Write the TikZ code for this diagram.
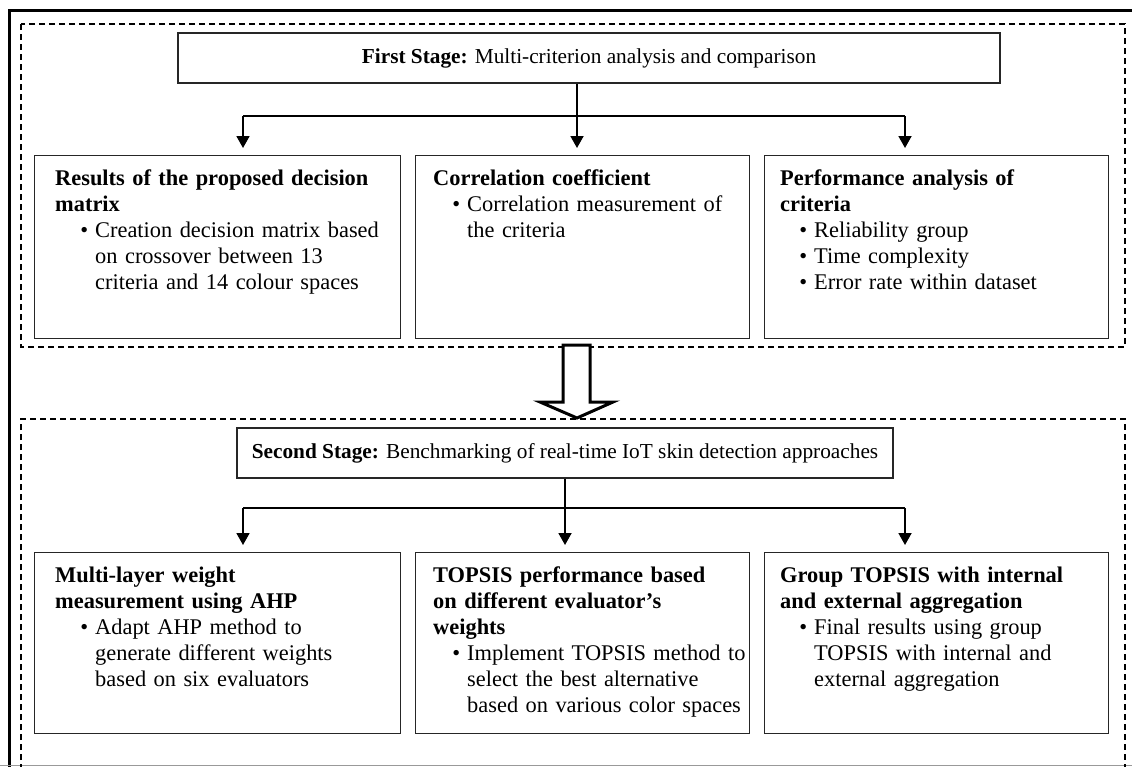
\documentclass[tikz,border=0pt]{standalone}
\usepackage{fontspec}
\setmainfont{Liberation Serif}
\usetikzlibrary{arrows.meta}
% bullet line and continuation line, both indented by #1
\newcommand\bl[2]{\hspace*{#1}\llap{\textbullet\hspace{7pt}}#2}
\newcommand\cl[2]{\hspace*{#1}#2}
\begin{document}
\begin{tikzpicture}[x={(1pt,0pt)}, y={(0pt,-1pt)},
  frame/.style={line width=3pt},
  stageframe/.style={draw=black, dash pattern=on 6pt off 4pt, line width=1.7pt},
  titlebox/.style={draw=black!85, line width=1.3pt, inner sep=0pt, align=center,
    font=\fontsize{21.3}{26}\selectfont},
  itembox/.style={draw=black!85, line width=1.3pt, inner sep=0pt, anchor=north west},
  boxtext/.style={anchor=north west, inner sep=0pt, align=left, text width=340pt,
    font=\fontsize{22.4}{26}\selectfont, xshift=18pt, yshift=-15pt},
  link/.style={line width=1.8pt},
  flow/.style={link, -{Triangle[width=13pt,length=12pt]}, shorten >=7pt},
  hollow/.style={line width=3pt, draw=black, fill=white, line join=miter}
]
\useasboundingbox (0,0) rectangle (1132,766);
\clip (0,0) rectangle (1132,766);

% outer frame and bottom rule
\draw[frame] (9.5,780) -- (9.5,10) -- (1150,10);
\draw[black!40, line width=1pt] (0,765.5) -- (1132,765.5);

% dashed stage frames
\draw[stageframe] (21,24) rectangle (1125,347);
\draw[stageframe] (21,790) |- (1125,419) -- (1125,790);

% ---------- first stage ----------
\node[titlebox, minimum width=822pt, minimum height=50pt] (t1) at (589,58)
  {\textbf{First Stage:} Multi-criterion analysis and comparison};

\node[itembox, minimum width=366pt, minimum height=183pt] (b1) at (34,155) {};
\node[itembox, minimum width=334pt, minimum height=183pt] (b2) at (415,155) {};
\node[itembox, minimum width=344pt, minimum height=183pt] (b3) at (764,155) {};

\node[boxtext, xshift=3pt] (b1t) at (b1.north west) {\textbf{Results of the proposed decision}\\
  \textbf{matrix}\\
  \bl{40pt}{Creation decision matrix based}\\
  \cl{40pt}{on crossover between 13}\\
  \cl{40pt}{criteria and 14 colour spaces}};
\node[boxtext] (b2t) at (b2.north west) {\textbf{Correlation coefficient}\\
  \bl{34pt}{Correlation measurement of}\\
  \cl{34pt}{the criteria}};
\node[boxtext, xshift=-2pt] (b3t) at (b3.north west) {\textbf{Performance analysis of}\\
  \textbf{criteria}\\
  \bl{34pt}{Reliability group}\\
  \bl{34pt}{Time complexity}\\
  \bl{34pt}{Error rate within dataset}};

\coordinate (j1) at (577,116);
\coordinate (l1) at (243,116);
\coordinate (r1) at (905,116);
\draw[link] (l1) -- (r1);
\draw[flow] (t1.south -| j1) -- (b2.north -| j1);
\draw[flow] (l1) -- (b1.north -| l1);
\draw[flow] (r1) -- (b3.north -| r1);

% ---------- second stage ----------
\node[titlebox, minimum width=656pt, minimum height=50pt] (t2) at (565,453)
  {\textbf{Second Stage:} Benchmarking of real-time IoT skin detection approaches};

\node[itembox, minimum width=366pt, minimum height=181pt] (b4) at (34,552) {};
\node[itembox, minimum width=334pt, minimum height=181pt] (b5) at (415,552) {};
\node[itembox, minimum width=344pt, minimum height=181pt] (b6) at (764,552) {};

\node[boxtext, xshift=3pt] (b4t) at (b4.north west) {\textbf{Multi-layer weight}\\
  \textbf{measurement using AHP}\\
  \bl{40pt}{Adapt AHP method to}\\
  \cl{40pt}{generate different weights}\\
  \cl{40pt}{based on six evaluators}};
\node[boxtext] (b5t) at (b5.north west) {\textbf{TOPSIS performance based}\\
  \textbf{on different evaluator's}\\
  \textbf{weights}\\
  \bl{34pt}{Implement TOPSIS method to}\\
  \cl{34pt}{select the best alternative}\\
  \cl{34pt}{based on various color spaces}};
\node[boxtext, xshift=-2pt] (b6t) at (b6.north west) {\textbf{Group TOPSIS with internal}\\
  \textbf{and external aggregation}\\
  \bl{34pt}{Final results using group}\\
  \cl{34pt}{TOPSIS with internal and}\\
  \cl{34pt}{external aggregation}};

\coordinate (j2) at (565,508);
\coordinate (l2) at (243,508);
\coordinate (r2) at (905,508);
\draw[link] (l2) -- (r2);
\draw[flow] (t2.south -| j2) -- (b5.north -| j2);
\draw[flow] (l2) -- (b4.north -| l2);
\draw[flow] (r2) -- (b6.north -| r2);

% hollow arrow from the first stage down to the second
\draw[hollow] (563,345) -- (590,345) -- (590,402) -- (613,402) -- (577,418)
  -- (540,402) -- (563,402) -- cycle;
\end{tikzpicture}
\end{document}
